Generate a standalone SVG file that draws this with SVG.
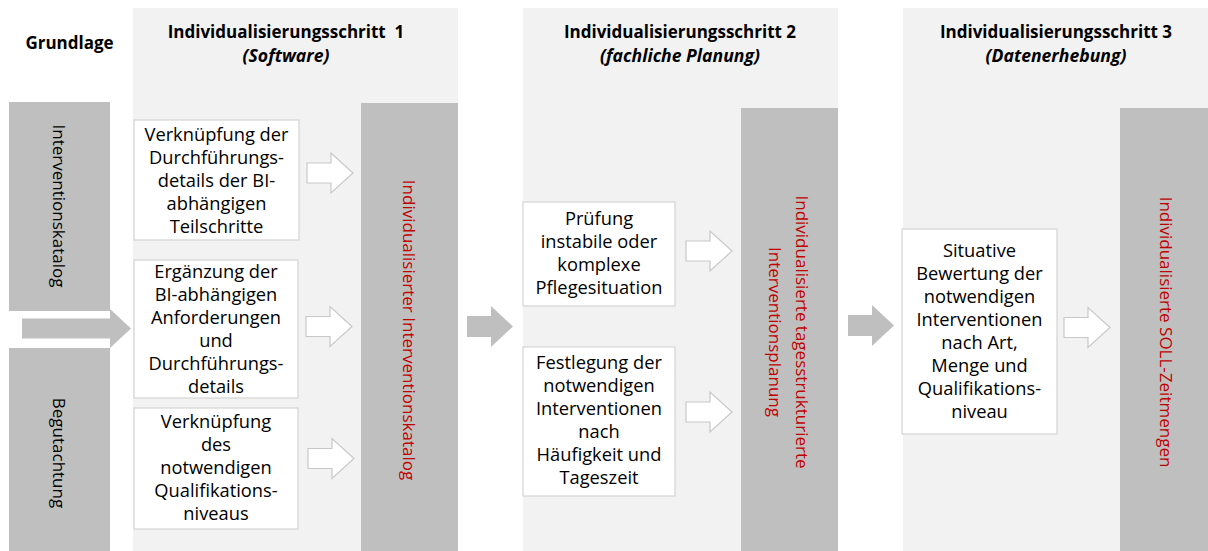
<svg xmlns="http://www.w3.org/2000/svg" xmlns:xlink="http://www.w3.org/1999/xlink" width="1208" height="551" viewBox="0 0 1208 551">
<style>
.panel{fill:#f2f2f2}
.bar{fill:#bfbfbf}
.box{fill:#ffffff;stroke:#d4d4d4;stroke-width:1.2}
.t{font-family:"Open Sans","Liberation Sans",sans-serif;font-size:18.3px;fill:#000;text-anchor:middle}
.h{font-family:"Open Sans","Liberation Sans",sans-serif;font-size:17px;font-weight:bold;fill:#000;text-anchor:middle}
.hi{font-style:italic;font-size:17.6px}
.v{font-family:"Open Sans","Liberation Sans",sans-serif;font-size:17px;fill:#000;text-anchor:middle;dominant-baseline:central}
.red{fill:#c00000}
.oa{fill:#ffffff;stroke:#c8c8c8;stroke-width:1.2}
.ga{fill:#bfbfbf}
</style>
<defs>
<path id="oarrow" d="M0,-10 L24,-10 L24,-20 L46,0 L24,20 L24,10 L0,10 Z"/>
<path id="garrow" d="M0,-10.5 L24,-10.5 L24,-20.5 L46,0 L24,20.5 L24,10.5 L0,10.5 Z"/>
</defs>
<rect width="1208" height="551" fill="#ffffff"/>
<g id="panels">
<rect class="panel" x="133" y="8" width="325" height="543"/>
<rect class="panel" x="523" y="8" width="315" height="543"/>
<rect class="panel" x="903" y="8" width="305" height="543"/>
</g>
<g id="titles">
<text class="h" x="69.5" y="49">Grundlage</text>
<text class="h" x="286" y="38">Individualisierungsschritt&#160; 1</text>
<text class="h hi" x="286" y="61.5">(Software)</text>
<text class="h" x="680" y="38">Individualisierungsschritt 2</text>
<text class="h hi" x="680" y="61.5">(fachliche Planung)</text>
<text class="h" x="1056" y="38">Individualisierungsschritt 3</text>
<text class="h hi" x="1056" y="61.5">(Datenerhebung)</text>
</g>
<g id="grundlage-interventionskatalog">
<rect class="bar" x="9" y="102" width="101" height="209"/>
<text class="v" transform="translate(59.5,206) rotate(90)">Interventionskatalog</text>
</g>
<g id="grundlage-begutachtung">
<rect class="bar" x="9" y="348" width="101" height="203"/>
<text class="v" transform="translate(59.5,453) rotate(90)">Begutachtung</text>
</g>
<g id="box-1a">
<rect class="box" x="134" y="120" width="165" height="120"/>
<text class="t" x="216.5" y="141">Verknüpfung der</text>
<text class="t" x="216.5" y="164">Durchführungs-</text>
<text class="t" x="216.5" y="187">details der BI-</text>
<text class="t" x="216.5" y="210">abhängigen</text>
<text class="t" x="216.5" y="233">Teilschritte</text>
</g>
<g id="box-1b">
<rect class="box" x="134" y="260" width="164" height="138"/>
<text class="t" x="216" y="278">Ergänzung der</text>
<text class="t" x="216" y="301">BI-abhängigen</text>
<text class="t" x="216" y="324">Anforderungen</text>
<text class="t" x="216" y="347">und</text>
<text class="t" x="216" y="370">Durchführungs-</text>
<text class="t" x="216" y="393">details</text>
</g>
<g id="box-1c">
<rect class="box" x="134" y="408" width="164" height="121"/>
<text class="t" x="216" y="428">Verknüpfung</text>
<text class="t" x="216" y="451">des</text>
<text class="t" x="216" y="474">notwendigen</text>
<text class="t" x="216" y="497">Qualifikations-</text>
<text class="t" x="216" y="520">niveaus</text>
</g>
<g id="result-1">
<rect class="bar" x="361" y="103" width="97" height="448"/>
<text class="v red" transform="translate(409.5,330) rotate(90)">Individualisierter Interventionskatalog</text>
</g>
<g id="box-2a">
<rect class="box" x="523" y="202" width="152" height="104"/>
<text class="t" x="599" y="225">Prüfung</text>
<text class="t" x="599" y="248">instabile oder</text>
<text class="t" x="599" y="271">komplexe</text>
<text class="t" x="599" y="294">Pflegesituation</text>
</g>
<g id="box-2b">
<rect class="box" x="523" y="347" width="152" height="149"/>
<text class="t" x="599" y="369">Festlegung der</text>
<text class="t" x="599" y="392">notwendigen</text>
<text class="t" x="599" y="415">Interventionen</text>
<text class="t" x="599" y="438">nach</text>
<text class="t" x="599" y="461">Häufigkeit und</text>
<text class="t" x="599" y="484">Tageszeit</text>
</g>
<g id="result-2">
<rect class="bar" x="741" y="108" width="97" height="443"/>
<text class="v red" transform="translate(802,332) rotate(90)">Individualisierte tagesstrukturierte</text>
<text class="v red" transform="translate(775,332) rotate(90)">Interventionsplanung</text>
</g>
<g id="box-3">
<rect class="box" x="902" y="229" width="155" height="205"/>
<text class="t" x="979.5" y="257">Situative</text>
<text class="t" x="979.5" y="280">Bewertung der</text>
<text class="t" x="979.5" y="303">notwendigen</text>
<text class="t" x="979.5" y="326">Interventionen</text>
<text class="t" x="979.5" y="349">nach Art,</text>
<text class="t" x="979.5" y="372">Menge und</text>
<text class="t" x="979.5" y="395">Qualifikations-</text>
<text class="t" x="979.5" y="418">niveau</text>
</g>
<g id="result-3">
<rect class="bar" x="1120" y="108" width="88" height="443"/>
<text class="v red" transform="translate(1166,332) rotate(90)">Individualisierte SOLL-Zeitmengen</text>
</g>
<g id="connectors">
<path class="ga" d="M22,318.5 L110,318.5 L110,309 L131,328.5 L110,348 L110,338.5 L22,338.5 Z"/>
<use xlink:href="#garrow" class="ga" transform="translate(467,326.5)"/>
<use xlink:href="#garrow" class="ga" transform="translate(848,325.5)"/>
<use xlink:href="#oarrow" class="oa" transform="translate(307,173)"/>
<use xlink:href="#oarrow" class="oa" transform="translate(306,326.5)"/>
<use xlink:href="#oarrow" class="oa" transform="translate(308,458.5)"/>
<use xlink:href="#oarrow" class="oa" transform="translate(686,251)"/>
<use xlink:href="#oarrow" class="oa" transform="translate(686,412)"/>
<use xlink:href="#oarrow" class="oa" transform="translate(1064,327.5)"/>
</g>
</svg>
